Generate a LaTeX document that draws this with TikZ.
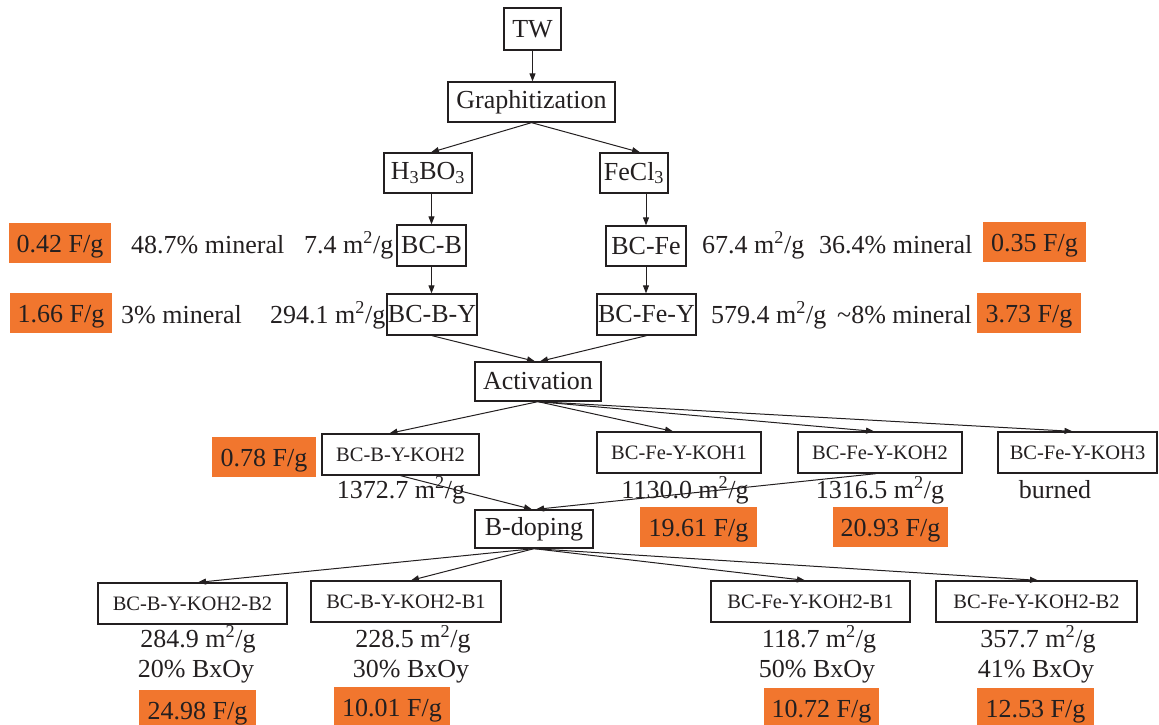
\documentclass[tikz,border=0pt]{standalone}
\usepackage{fontspec}
\setmainfont{Liberation Serif}
\usetikzlibrary{arrows.meta}
\definecolor{orng}{RGB}{241,118,46}
\definecolor{ink}{RGB}{35,31,32}
\begin{document}
\begin{tikzpicture}[x=1pt,y=-1pt,
 box/.style={draw=ink, line width=1.3pt, inner sep=0pt, text=ink, font=\fontsize{26}{30}\selectfont},
 sbox/.style={box, font=\fontsize{20.5}{24}\selectfont},
 capbox/.style={fill=orng, inner sep=0pt, text=ink, minimum height=40pt, text height=23pt, text depth=4pt, font=\fontsize{26}{30}\selectfont},
 lbl/.style={inner sep=0pt, text=ink, font=\fontsize{26}{30}\selectfont, anchor=base},
 lbll/.style={lbl, anchor=base west},
 arr/.style={draw=ink, line width=1pt, -{Triangle[length=8pt,width=6pt]}}
]
\useasboundingbox (0,0) rectangle (1159,725);

% process boxes
\node[box, minimum width=57pt, minimum height=42pt] (tw) at (532.5,29) {TW};
\node[box, minimum width=167pt, minimum height=40pt] (graph) at (531.5,102) {Graphitization};
\node[box, minimum width=88pt, minimum height=40pt] (h3bo3) at (428,173) {H\textsubscript{3}BO\textsubscript{3}};
\node[box, minimum width=68pt, minimum height=40pt] (fecl3) at (634,173) {FeCl\textsubscript{3}};
\node[box, minimum width=69pt, minimum height=41pt] (bcb) at (431.5,245.5) {BC-B};
\node[box, minimum width=80pt, minimum height=40pt] (bcfe) at (646,246) {BC-Fe};
\node[box, minimum width=90pt, minimum height=41pt] (bcby) at (432,314.5) {BC-B-Y};
\node[box, minimum width=99pt, minimum height=41pt] (bcfey) at (646.5,314.5) {BC-Fe-Y};
\node[box, minimum width=126pt, minimum height=39pt] (act) at (538,381.5) {Activation};
\node[sbox, minimum width=157pt, minimum height=41pt] (k2b) at (400.5,454.5) {BC-B-Y-KOH2};
\node[sbox, minimum width=164pt, minimum height=41pt] (k1) at (679,452.5) {BC-Fe-Y-KOH1};
\node[sbox, minimum width=164pt, minimum height=41pt] (k2) at (880,452.5) {BC-Fe-Y-KOH2};
\node[sbox, minimum width=159pt, minimum height=41pt] (k3) at (1077.5,452.5) {BC-Fe-Y-KOH3};
\node[box, minimum width=118pt, minimum height=38pt] (bdop) at (534,529) {B-doping};
\node[sbox, minimum width=189pt, minimum height=41pt] (b2) at (192.5,603.5) {BC-B-Y-KOH2-B2};
\node[sbox, minimum width=190pt, minimum height=41pt] (b1) at (406,601.5) {BC-B-Y-KOH2-B1};
\node[sbox, minimum width=199pt, minimum height=41pt] (feb1) at (810.5,601.5) {BC-Fe-Y-KOH2-B1};
\node[sbox, minimum width=201pt, minimum height=41pt] (feb2) at (1036.5,601.5) {BC-Fe-Y-KOH2-B2};

% orange capacitance boxes
\node[capbox, minimum width=102pt] (c1) at (60,243) {0.42 F/g};
\node[capbox, minimum width=102pt] (c2) at (61,313) {1.66 F/g};
\node[capbox, minimum width=103pt] (c3) at (1034.5,242) {0.35 F/g};
\node[capbox, minimum width=104pt] (c4) at (1029,313) {3.73 F/g};
\node[capbox, minimum width=104pt] (c5) at (264,457) {0.78 F/g};
\node[capbox, minimum width=117pt] (c6) at (698.5,527) {19.61 F/g};
\node[capbox, minimum width=115pt] (c7) at (890.5,527) {20.93 F/g};
\node[capbox, minimum width=117pt] (c8) at (197.5,710) {24.98 F/g};
\node[capbox, minimum width=116pt] (c9) at (392,707) {10.01 F/g};
\node[capbox, minimum width=115pt] (c10) at (821.5,708) {10.72 F/g};
\node[capbox, minimum width=117pt] (c11) at (1035.5,708) {12.53 F/g};

% labels
\node[lbll] (l1) at (131,253) {48.7\% mineral};
\node[lbll] (l2) at (304,253) {7.4 m\textsuperscript{2}/g};
\node[lbll] (l3) at (702,253) {67.4 m\textsuperscript{2}/g};
\node[lbll] (l4) at (819,253) {36.4\% mineral};
\node[lbll] (l5) at (121,323) {3\% mineral};
\node[lbll] (l6) at (270,323) {294.1 m\textsuperscript{2}/g};
\node[lbll] (l7) at (711,323) {579.4 m\textsuperscript{2}/g};
\node[lbll] (l8) at (837,323) {\textasciitilde8\% mineral};
\node[lbl] (l9) at (401,498) {1372.7 m\textsuperscript{2}/g};
\node[lbl] (l10) at (685,498) {1130.0 m\textsuperscript{2}/g};
\node[lbl] (l11) at (880,498) {1316.5 m\textsuperscript{2}/g};
\node[lbl] (l12) at (1055,498) {burned};
\node[lbl] (l13) at (198,647) {284.9 m\textsuperscript{2}/g};
\node[lbl] (l14) at (196,677) {20\% BxOy};
\node[lbl] (l15) at (413,647) {228.5 m\textsuperscript{2}/g};
\node[lbl] (l16) at (411,677) {30\% BxOy};
\node[lbl] (l17) at (819,647) {118.7 m\textsuperscript{2}/g};
\node[lbl] (l18) at (817,677) {50\% BxOy};
\node[lbl] (l19) at (1038,647) {357.7 m\textsuperscript{2}/g};
\node[lbl] (l20) at (1036,677) {41\% BxOy};

% connectors
\draw[arr] (tw.south) -- (tw.south |- graph.north);
\draw[arr] (graph.south) -- ([xshift=3pt]h3bo3.north);
\draw[arr] (graph.south) -- ([xshift=6pt]fecl3.north);
\draw[arr] (bcb.north |- h3bo3.south) -- (bcb.north);
\draw[arr] (bcfe.north |- fecl3.south) -- (bcfe.north);
\draw[arr] (bcb.south) -- (bcb.south |- bcby.north);
\draw[arr] (bcfe.south) -- (bcfe.south |- bcfey.north);
\draw[arr] (bcby.south) -- ([xshift=-3pt]act.north);
\draw[arr] (bcfey.south) -- ([xshift=2pt]act.north);
\draw[arr] (act.south) -- ([xshift=-11pt]k2b.north);
\draw[arr] (act.south) -- ([xshift=-6pt]k1.north);
\draw[arr] (act.south) -- ([xshift=-6pt]k2.north);
\draw[arr] (act.south) -- ([xshift=-5pt]k3.north);
\draw[arr] (k2b.south) -- ([xshift=-2pt]bdop.north);
\draw[arr] ([xshift=-4pt]k2.south) -- ([xshift=2pt]bdop.north);
\draw[arr] (bdop.south) -- ([xshift=5.5pt]b2.north);
\draw[arr] (bdop.south) -- ([xshift=5pt]b1.north);
\draw[arr] (bdop.south) -- ([xshift=-5.5pt]feb1.north);
\draw[arr] (bdop.south) -- ([xshift=1.5pt]feb2.north);
\end{tikzpicture}
\end{document}
